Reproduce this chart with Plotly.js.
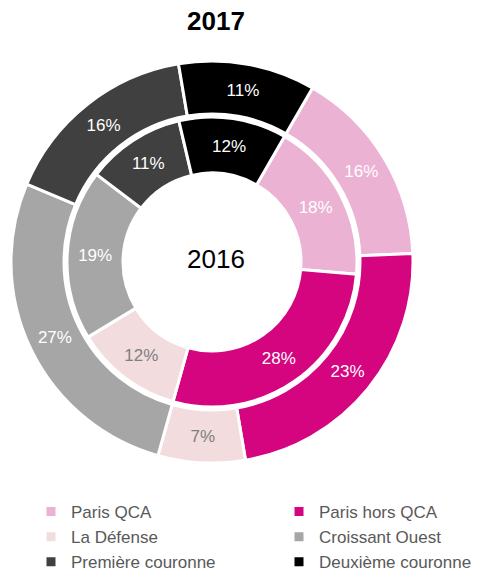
<!DOCTYPE html>
<html>
<head>
<meta charset="utf-8">
<script src="https://cdn.plot.ly/plotly-3.0.1.min.js"></script>
<style>html,body{margin:0;padding:0;background:#fff;}</style>
</head>
<body>
<div id="chart" style="width:492px;height:572px;"></div>
<script>
var categories = ["Paris QCA", "Paris hors QCA", "La Défense", "Croissant Ouest", "Première couronne", "Deuxième couronne"];
var values2017 = [16, 23, 7, 27, 16, 11];
var values2016 = [18, 28, 12, 19, 11, 12];
var colors = ["#EBB2D3", "#D5047F", "#F2DCDD", "#A6A6A6", "#404040", "#000000"];
var textColors = ["#FFFFFF", "#FFFFFF", "#7F7F7F", "#FFFFFF", "#FFFFFF", "#FFFFFF"];
var outerTitle = "2017";
var innerTitle = "2016";

var W = 492, H = 572;
var cx = 212, cy = 262;
function dom(r) {
  return {x: [(cx - r) / W, (cx + r) / W], y: [1 - (cy + r) / H, 1 - (cy - r) / H]};
}
var font = "Liberation Sans, Arial, sans-serif";

var outer = {
  type: "pie", labels: categories, values: values2017, sort: false,
  direction: "clockwise", rotation: 30, hole: 148 / 201, domain: dom(201),
  marker: {colors: colors, line: {color: "#FFFFFF", width: 3}},
  texttemplate: "%{value}%", textposition: "inside", insidetextorientation: "horizontal",
  textfont: {family: font, size: 17, color: textColors},
  hoverinfo: "label+percent", showlegend: true
};
var inner = {
  type: "pie", labels: categories, values: values2016, sort: false,
  direction: "clockwise", rotation: 30, hole: 89 / 145, domain: dom(145),
  marker: {colors: colors, line: {color: "#FFFFFF", width: 3}},
  texttemplate: "%{value}%", textposition: "inside", insidetextorientation: "horizontal",
  textfont: {family: font, size: 17, color: textColors},
  hoverinfo: "label+percent", showlegend: false
};

var layout = {
  width: W, height: H,
  margin: {l: 0, r: 0, t: 0, b: 0, autoexpand: false},
  paper_bgcolor: "#FFFFFF",
  font: {family: font, color: "#595959"},
  title: {text: "<b>" + outerTitle + "</b>", font: {family: font, size: 26, color: "#000000"},
          x: 216 / W, xanchor: "center", xref: "paper", y: 1 - 21 / H, yanchor: "middle", yref: "container"},
  annotations: [{text: innerTitle, x: 216 / W, y: 1 - 259 / H, xref: "paper", yref: "paper",
                 showarrow: false, font: {family: font, size: 26, color: "#000000"}}],
  legend: {orientation: "h", x: 31 / W, xanchor: "left", y: 1 - 494 / H, yanchor: "top",
           entrywidth: 203, entrywidthmode: "pixels",
           font: {family: font, size: 17, color: "#595959"}, bgcolor: "rgba(0,0,0,0)"},
  showlegend: true
};
Plotly.newPlot("chart", [outer, inner], layout, {displayModeBar: false, staticPlot: true});
</script>
</body>
</html>
